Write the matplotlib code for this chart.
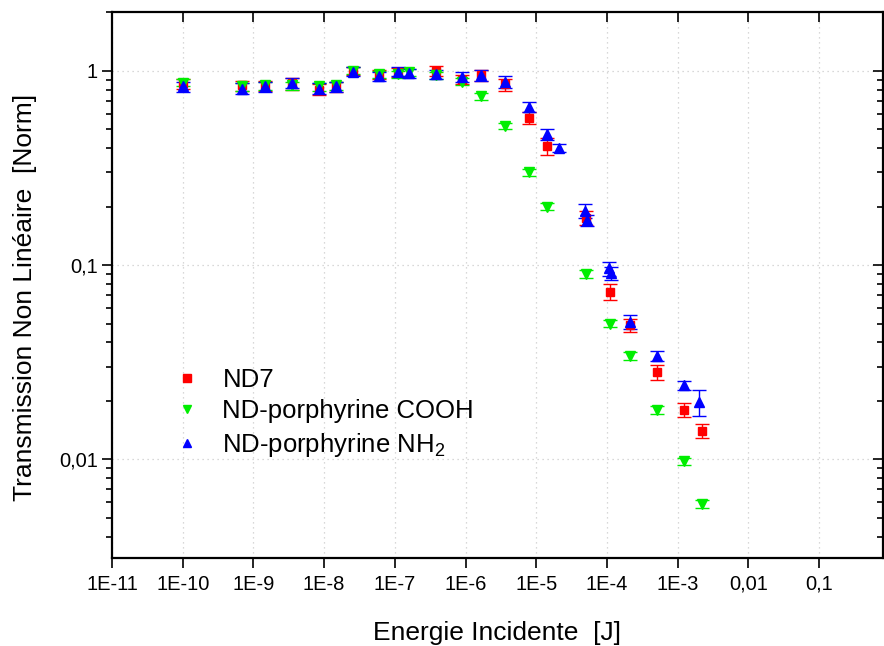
import matplotlib
matplotlib.use("Agg")
import matplotlib.pyplot as plt
import numpy as np

# ---- data ----
nd7_x = [1.0e-10, 6.9e-10, 1.46e-9, 3.5e-9, 8.5e-9, 1.47e-8, 2.56e-8, 6.0e-8, 1.11e-7,
         3.8e-7, 8.9e-7, 1.66e-6, 3.6e-6, 7.9e-6, 1.42e-5, 5.06e-5, 1.1e-4, 2.12e-4,
         5.1e-4, 1.23e-3, 2.21e-3]
nd7_y = [0.86, 0.84, 0.84, 0.86, 0.80, 0.83, 1.00, 0.96, 0.98,
         1.00, 0.90, 0.95, 0.85, 0.57, 0.41, 0.175, 0.073, 0.049,
         0.028, 0.018, 0.014]
nd7_err = [0.05, 0.05, 0.05, 0.06, 0.05, 0.05, 0.05, 0.05, 0.05,
           0.06, 0.05, 0.06, 0.06, 0.04, 0.04, 0.015, 0.007, 0.004,
           0.0025, 0.0015, 0.0012]

cooh_x = [1.0e-10, 6.9e-10, 1.46e-9, 3.5e-9, 8.5e-9, 1.47e-8, 2.56e-8, 6.0e-8, 1.11e-7,
          1.58e-7, 3.8e-7, 8.9e-7, 1.66e-6, 3.6e-6, 7.9e-6, 1.42e-5, 5.06e-5, 1.1e-4,
          2.12e-4, 5.1e-4, 1.23e-3, 2.21e-3]
cooh_y = [0.87, 0.83, 0.84, 0.84, 0.83, 0.84, 1.00, 0.96, 0.96,
          0.98, 0.95, 0.88, 0.74, 0.52, 0.30, 0.20, 0.090, 0.050,
          0.034, 0.018, 0.0098, 0.0059]
cooh_err = [0.04, 0.04, 0.04, 0.04, 0.04, 0.04, 0.04, 0.04, 0.04,
            0.04, 0.04, 0.04, 0.03, 0.02, 0.012, 0.008, 0.004, 0.002,
            0.0015, 0.0008, 0.0004, 0.0003]

nh2_x = [1.0e-10, 6.9e-10, 1.46e-9, 3.5e-9, 8.5e-9, 1.47e-8, 2.56e-8, 6.0e-8, 1.11e-7,
         1.58e-7, 3.8e-7, 8.9e-7, 1.66e-6, 3.6e-6, 7.9e-6, 1.42e-5, 2.10e-5, 4.9e-5,
         5.2e-5, 1.07e-4, 1.13e-4, 2.15e-4, 5.1e-4, 1.23e-3, 2.0e-3]
nh2_y = [0.83, 0.81, 0.83, 0.87, 0.81, 0.83, 0.99, 0.94, 0.99,
         0.97, 0.96, 0.93, 0.95, 0.88, 0.65, 0.47, 0.40, 0.19,
         0.17, 0.096, 0.091, 0.051, 0.034, 0.024, 0.0197]
nh2_err = [0.05, 0.05, 0.05, 0.05, 0.05, 0.05, 0.05, 0.05, 0.05,
           0.05, 0.05, 0.05, 0.06, 0.06, 0.04, 0.03, 0.02, 0.015,
           0.012, 0.008, 0.007, 0.004, 0.002, 0.0012, 0.003]

xticks = [1e-11, 1e-10, 1e-9, 1e-8, 1e-7, 1e-6, 1e-5, 1e-4, 1e-3, 1e-2, 1e-1]
xticklabels = ["1E-11", "1E-10", "1E-9", "1E-8", "1E-7", "1E-6", "1E-5", "1E-4", "1E-3", "0,01", "0,1"]
yticks = [0.01, 0.1, 1]
yticklabels = ["0,01", "0,1", "1"]

plt.rcParams['font.family'] = ['Liberation Sans', 'DejaVu Sans']
plt.rcParams['mathtext.fontset'] = 'custom'
plt.rcParams['mathtext.rm'] = 'Liberation Sans'

fig = plt.figure(figsize=(8.84, 6.46), dpi=100)
ax = fig.add_axes([0.1267, 0.136, 0.872, 0.845])

series = [
    (nd7_x, nd7_y, nd7_err, "s", "#ff0000", "ND7", 5.5),
    (cooh_x, cooh_y, cooh_err, "v", "#00ee00", "ND-porphyrine COOH", 7),
    (nh2_x, nh2_y, nh2_err, "^", "#0000ff", r"ND-porphyrine NH$_\mathregular{2}$", 7),
]
handles = []
for x, y, e, m, c, lab, ms in series:
    ax.errorbar(x, y, yerr=e, fmt=m, color=c, ecolor=c, markersize=ms,
                elinewidth=1.0, capsize=5, capthick=1.0, linestyle="none", zorder=3)
    h, = ax.plot([], [], m, color=c, markersize=5.5, linestyle="none", label=lab)
    handles.append(h)

ax.set_xscale("log")
ax.set_yscale("log")
ax.set_xlim(1e-11, 0.8)
ax.set_ylim(0.0031, 2.0)
ax.set_xticks(xticks)
ax.set_xticklabels(xticklabels)
ax.set_yticks(yticks)
ax.set_yticklabels(yticklabels)

for lab in ax.get_xticklabels() + ax.get_yticklabels():
    lab.set_fontsize(14.5)

ax.grid(True, which="major", linestyle=(0, (1, 3)), color="#cccccc", linewidth=0.9)
ax.tick_params(which="both", top=True, right=True, width=1.2)
ax.tick_params(axis="x", which="major", direction="out", length=7, pad=5)
ax.tick_params(axis="x", which="minor", direction="out", length=4)
ax.tick_params(axis="y", which="major", direction="out", length=7, pad=3)
ax.tick_params(axis="y", which="minor", direction="out", length=4)
for t in ax.xaxis.get_major_ticks() + ax.xaxis.get_minor_ticks():
    t.tick2line.set_marker(3)
for t in ax.yaxis.get_major_ticks() + ax.yaxis.get_minor_ticks():
    t.tick2line.set_marker(0)
for s in ax.spines.values():
    s.set_linewidth(1.6)

ax.set_xlabel("Energie Incidente  [J]", fontsize=19)
ax.set_ylabel("Transmission Non Linéaire  [Norm]", fontsize=19)
ax.xaxis.set_label_coords(0.5, -0.137)
ax.yaxis.set_label_coords(-0.113, 0.478)
ax.xaxis.label.set_va("center")
ax.yaxis.label.set_va("center")

leg = ax.legend(handles=handles, loc="upper left", bbox_to_anchor=(0.07, 0.368),
                frameon=False, fontsize=18.5, handlelength=0.8, handletextpad=1.0,
                labelspacing=0.3, borderaxespad=0)

fig.savefig("out.png", dpi=100)
